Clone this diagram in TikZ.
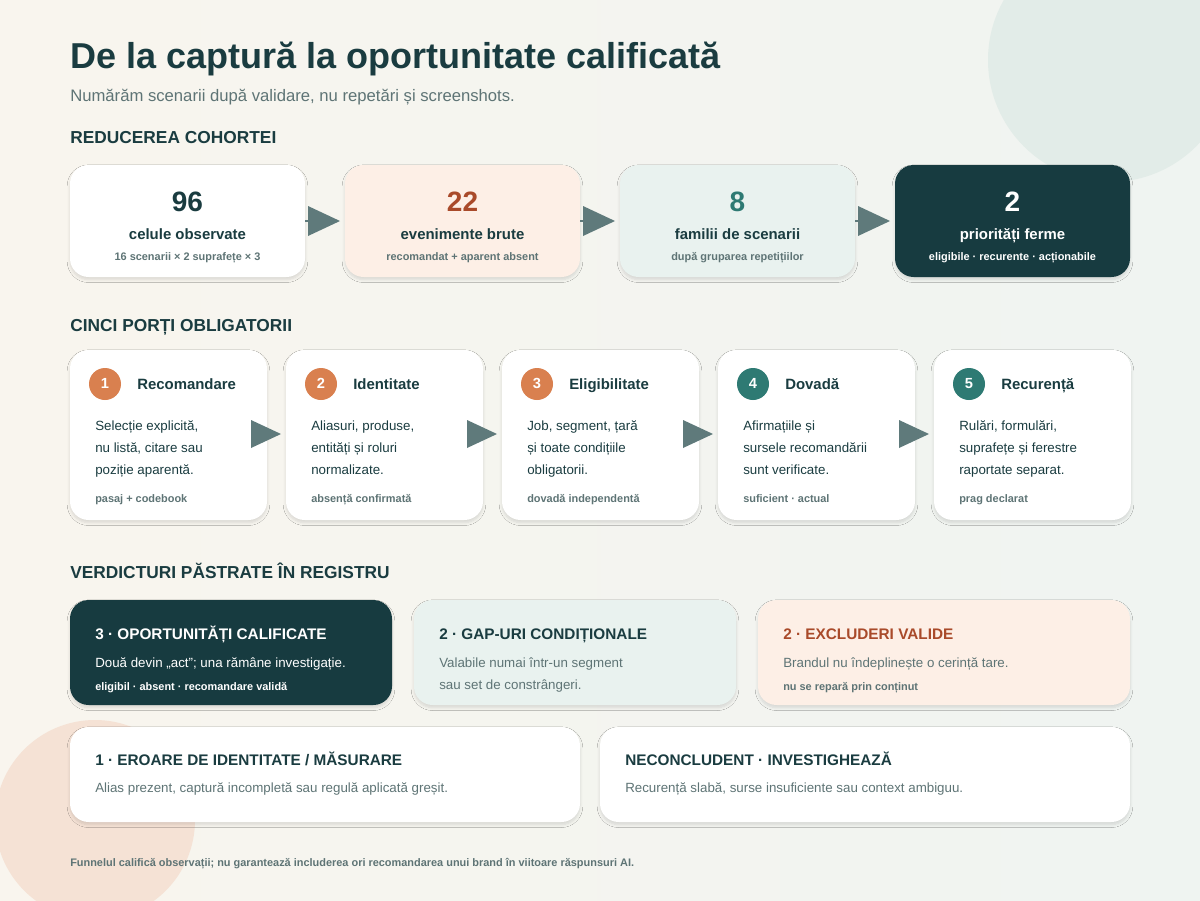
\documentclass[tikz,border=0pt]{standalone}
\usepackage{fontspec}
\setmainfont{Liberation Sans}
\usetikzlibrary{shadows.blur}
\definecolor{ink}{HTML}{1A3C40}
\definecolor{dark}{HTML}{173B40}
\definecolor{gray}{HTML}{5E7475}
\definecolor{peach}{HTML}{FDEFE6}
\definecolor{mint}{HTML}{E9F2EF}
\definecolor{rust}{HTML}{A94A2A}
\definecolor{orng}{HTML}{D9804F}
\definecolor{teal}{HTML}{2E7A73}
\definecolor{arr}{HTML}{5F7A7B}
\tikzset{
 card/.style={rounded corners=14pt,blur shadow={shadow blur steps=6,shadow xshift=0pt,shadow yshift=-2pt,shadow opacity=12}},
 t/.style={anchor=base west,inner sep=0pt,text=ink},
 c/.style={anchor=base,inner sep=0pt,text=ink},
 tri/.style={fill=arr,draw=none},
}
\newcommand{\fs}[2]{\fontsize{#1}{#2}\selectfont}
\begin{document}
\begin{tikzpicture}[x=0.75pt,y=-0.75pt]
\useasboundingbox (0,0) rectangle (1200,900);
\shade[left color={rgb,255:red,249;green,245;blue,238}, right color={rgb,255:red,239;green,244;blue,241}] (0,0) rectangle (1200,900);
\begin{scope}
\clip (0,0) rectangle (1200,900);
\fill[color={rgb,255:red,226;green,236;blue,232}] (1110,60) circle (122);
\fill[color={rgb,255:red,245;green,226;blue,213}] (95,820) circle (100);
\end{scope}
\node[t,font=\fs{27}{30}\bfseries] (title) at (70,68) {De la captură la oportunitate calificată};
\node[t,text=gray,font=\fs{12.5}{14}] (sub) at (70,101) {Numărăm scenarii după validare, nu repetări și screenshots.};
\node[t,font=\fs{13}{15}\bfseries] (h1) at (70,143) {REDUCEREA COHORTEI};
\node[t,font=\fs{13}{15}\bfseries] (h2) at (70,331) {CINCI PORȚI OBLIGATORII};
\node[t,font=\fs{13}{15}\bfseries] (h3) at (70,578) {VERDICTURI PĂSTRATE ÎN REGISTRU};
% cohort
\foreach \x/\f/\n/\nc/\l/\lc/\s/\sc [count=\i] in {
 70/white/96/ink/{celule observate}/ink/{16 scenarii × 2 suprafețe × 3}/gray,
 345/peach/22/rust/{evenimente brute}/ink/{recomandat + aparent absent}/gray,
 620/mint/8/teal/{familii de scenarii}/ink/{după gruparea repetițiilor}/gray,
 895/dark/2/white/{priorități ferme}/white/{eligibile · recurente · acționabile}/white}{
 \fill[card,fill=\f] (\x,165) rectangle +(235,112);
 \node[c,text=\nc,font=\fs{21}{24}\bfseries] (n\i) at (\x+117.5,211) {\n};
 \node[c,text=\lc,font=\fs{11.2}{13}\bfseries] (l\i) at (\x+117.5,239) {\l};
 \node[c,text=\sc,font=\fs{8.2}{10}\bfseries] (s\i) at (\x+117.5,260) {\s};
}
\foreach \x in {305,580,855}{
 \draw[arr,line width=2.2pt] (\x,221) -- (\x+10,221);
 \fill[tri] (\x+3,206) -- (\x+35,221) -- (\x+3,236) -- cycle;
}
% gates
\foreach \x/\cc/\k/\ti/\la/\lb/\lcc/\ff [count=\i] in {
 70/orng/1/Recomandare/{Selecție explicită,}/{nu listă, citare sau}/{poziție aparentă.}/{pasaj + codebook},
 286/orng/2/Identitate/{Aliasuri, produse,}/{entități și roluri}/{normalizate.}/{absență confirmată},
 502/orng/3/Eligibilitate/{Job, segment, țară}/{și toate condițiile}/{obligatorii.}/{dovadă independentă},
 718/teal/4/Dovadă/{Afirmațiile și}/{sursele recomandării}/{sunt verificate.}/{suficient · actual},
 934/teal/5/Recurență/{Rulări, formulări,}/{suprafețe și ferestre}/{raportate separat.}/{prag declarat}}{
 \fill[card,fill=white] (\x,350) rectangle +(197,170);
 \fill[\cc] (\x+35,384) circle (16);
 \node[c,text=white,font=\fs{11}{13}\bfseries] (k\i) at (\x+35,388.5) {\k};
 \node[t,font=\fs{11.2}{13}\bfseries] (g\i) at (\x+67,389) {\ti};
 \node[t,font=\fs{10}{12}] (ga\i) at (\x+25,430) {\la};
 \node[t,font=\fs{10}{12}] (gb\i) at (\x+25,452) {\lb};
 \node[t,font=\fs{10}{12}] (gc\i) at (\x+25,474) {\lcc};
 \node[t,text=gray,font=\fs{8.2}{10}\bfseries] (gf\i) at (\x+25,502) {\ff};
}
\foreach \x in {251,467,683,899}{
 \fill[tri] (\x,420) -- (\x+30,434) -- (\x,448) -- cycle;
}
% verdicts
\fill[card,fill=dark] (70,600) rectangle (392,705);
\fill[card,fill=mint] (414,600) rectangle (736,705);
\fill[card,fill=peach] (758,600) rectangle (1130,705);
\fill[card,fill=white] (70,727) rectangle (580,822);
\fill[card,fill=white] (600,727) rectangle (1130,822);
\node[t,text=white,font=\fs{11.5}{13}\bfseries] (v1) at (95,639) {3 · OPORTUNITĂȚI CALIFICATE};
\node[t,text=white,font=\fs{10}{12}] (v1a) at (95,667) {Două devin „act”; una rămâne investigație.};
\node[t,text=white,font=\fs{8.2}{10}\bfseries] (v1b) at (95,690) {eligibil · absent · recomandare validă};
\node[t,font=\fs{11.5}{13}\bfseries] (v2) at (439,639) {2 · GAP-URI CONDIȚIONALE};
\node[t,text=gray,font=\fs{10}{12}] (v2a) at (439,667) {Valabile numai într-un segment};
\node[t,text=gray,font=\fs{10}{12}] (v2b) at (439,689) {sau set de constrângeri.};
\node[t,text=rust,font=\fs{11.5}{13}\bfseries] (v3) at (783,639) {2 · EXCLUDERI VALIDE};
\node[t,text=gray,font=\fs{10}{12}] (v3a) at (783,667) {Brandul nu îndeplinește o cerință tare.};
\node[t,text=gray,font=\fs{8.2}{10}\bfseries] (v3b) at (783,690) {nu se repară prin conținut};
\node[t,font=\fs{11.5}{13}\bfseries] (v4) at (95,765) {1 · EROARE DE IDENTITATE / MĂSURARE};
\node[t,text=gray,font=\fs{10}{12}] (v4a) at (95,792) {Alias prezent, captură incompletă sau regulă aplicată greșit.};
\node[t,font=\fs{11.5}{13}\bfseries] (v5) at (625,765) {NECONCLUDENT · INVESTIGHEAZĂ};
\node[t,text=gray,font=\fs{10}{12}] (v5a) at (625,792) {Recurență slabă, surse insuficiente sau context ambiguu.};
\node[t,text=gray,font=\fs{8.2}{10}\bfseries] (foot) at (70,866) {Funnelul califică observații; nu garantează includerea ori recomandarea unui brand în viitoare răspunsuri AI.};
\end{tikzpicture}
\end{document}
